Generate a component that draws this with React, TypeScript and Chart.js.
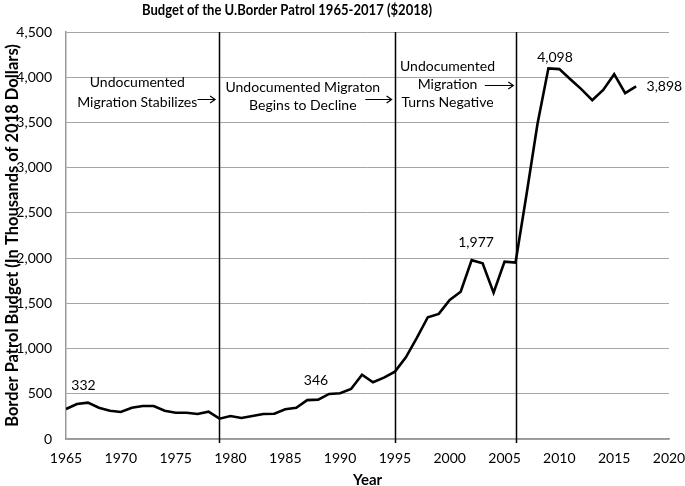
import { useEffect, useRef } from "react";
import { Chart, registerables } from "chart.js";

Chart.register(...registerables);

const years: number[] = [
  1965, 1966, 1967, 1968, 1969, 1970, 1971, 1972, 1973, 1974,
  1975, 1976, 1977, 1978, 1979, 1980, 1981, 1982, 1983, 1984,
  1985, 1986, 1987, 1988, 1989, 1990, 1991, 1992, 1993, 1994,
  1995, 1996, 1997, 1998, 1999, 2000, 2001, 2002, 2003, 2004,
  2005, 2006, 2007, 2008, 2009, 2010, 2011, 2012, 2013, 2014,
  2015, 2016, 2017,
];
const budget: number[] = [
  332, 387, 402, 346, 313, 299, 346, 365, 365, 313,
  291, 291, 276, 302, 225, 254, 232, 254, 276, 280,
  328, 346, 430, 435, 498, 505, 553, 711, 627, 678,
  745, 903, 1117, 1346, 1383, 1537, 1629, 1977, 1943, 1618,
  1961, 1950, 2700, 3480, 4098, 4090, 3978, 3868, 3745, 3860,
  4034, 3824, 3898,
];
const markerYears: number[] = [1979, 1995, 2006];
const valueLabels: string[] = ["332", "346", "1,977", "4,098", "3,898"];
const phaseTexts: string[][] = [
  ["Undocumented", "Migration Stabilizes"],
  ["Undocumented Migraton", "Begins to Decline"],
  ["Undocumented", "Migration", "Turns Negative"],
];
const chartTitle = "Budget of the U.Border Patrol 1965-2017 ($2018)";
const yTitle = "Border Patrol Budget (In Thousands of 2018 Dollars)";
const xTitle = "Year";

const FONT = "Lato, 'Noto Sans', sans-serif";

const overlayPlugin = {
  id: "overlay",
  afterDatasetsDraw(chart: any) {
    const { ctx, chartArea, scales } = chart;
    const xs = scales.x;
    const ys = scales.y;
    const px = (v: number) => xs.getPixelForValue(v);
    const py = (v: number) => ys.getPixelForValue(v);
    ctx.save();
    // vertical marker lines
    ctx.strokeStyle = "#000";
    ctx.lineWidth = 1.5;
    markerYears.forEach((yr) => {
      const x = Math.round(px(yr)) + 0.5;
      ctx.beginPath();
      ctx.moveTo(x, chartArea.top);
      ctx.lineTo(x, chartArea.bottom + 4);
      ctx.stroke();
    });
    // value labels
    ctx.fillStyle = "#000";
    ctx.font = `14px ${FONT}`;
    ctx.textBaseline = "middle";
    const valPos: [number, number, CanvasTextAlign][] = [
      [1966.6, 597, "center"],
      [1987.8, 642, "center"],
      [2002.4, 2168, "center"],
      [2009.6, 4218, "center"],
      [2017.95, 3897, "left"],
    ];
    valueLabels.forEach((t, i) => {
      const [vx, vy, al] = valPos[i];
      ctx.textAlign = al;
      ctx.fillText(t, px(vx), py(vy));
    });
    // phase text blocks
    ctx.textAlign = "center";
    const blocks: [number, number[]][] = [
      [1971.5, [3938, 3717]],
      [1986.6, [3886, 3687]],
      [1999.8, [4118, 3916, 3717]],
    ];
    phaseTexts.forEach((lines, i) => {
      const [bx, bys] = blocks[i];
      lines.forEach((ln, j) => ctx.fillText(ln, px(bx), py(bys[j])));
    });
    // arrows
    const arrows: [number, number, number][] = [
      [1977.0, 1978.6, 3758],
      [1992.3, 1994.7, 3761],
      [2003.2, 2005.8, 3916],
    ];
    ctx.lineWidth = 1.2;
    arrows.forEach(([a, b, v]) => {
      const x1 = px(a);
      const x2 = px(b);
      const y = Math.round(py(v)) + 0.5;
      ctx.beginPath();
      ctx.moveTo(x1, y);
      ctx.lineTo(x2, y);
      ctx.moveTo(x2 - 5, y - 3.5);
      ctx.lineTo(x2, y);
      ctx.lineTo(x2 - 5, y + 3.5);
      ctx.stroke();
    });
    // title
    ctx.font = `bold 16px ${FONT}`;
    ctx.textAlign = "center";
    ctx.fillText(chartTitle, 287, 10, 290);
    ctx.restore();
  },
};

export default function App() {
  const ref = useRef<HTMLCanvasElement | null>(null);
  useEffect(() => {
    if (!ref.current) return;
    const chart = new Chart(ref.current, {
      type: "line",
      data: {
        datasets: [
          {
            data: years.map((y, i) => ({ x: y, y: budget[i] })),
            borderColor: "#000",
            borderWidth: 2.6,
            pointRadius: 0,
            tension: 0,
            fill: false,
          },
        ],
      },
      options: {
        responsive: false,
        animation: false,
        layout: { padding: { left: 0, right: 16, top: 32, bottom: 0 } },
        plugins: {
          legend: { display: false },
          title: { display: false },
          tooltip: { enabled: false },
        },
        scales: {
          x: {
            type: "linear",
            min: 1965,
            max: 2020,
            ticks: {
              stepSize: 5,
              color: "#000",
              font: { family: FONT, size: 14 },
              padding: 11,
              callback: (v: any) => String(v),
              maxRotation: 0,
            },
            grid: { display: false, drawTicks: false },
            border: { color: "#999", width: 1.5 },
            title: {
              display: true,
              text: xTitle,
              color: "#000",
              font: { family: FONT, size: 15, weight: "bold" },
              padding: { top: 0, bottom: -3 },
            },
            afterFit: (s: any) => {
              s.height = 47;
              s.paddingLeft = 0;
              s.paddingRight = 0;
            },
          },
          y: {
            min: 0,
            max: 4500,
            ticks: {
              stepSize: 500,
              color: "#000",
              font: { family: FONT, size: 14 },
              padding: 14,
              callback: (v: any) => Number(v).toLocaleString("en-US"),
            },
            grid: { color: "#a6a6a6", lineWidth: 1, drawTicks: false },
            border: { color: "#999", width: 1.5 },
            title: {
              display: true,
              text: yTitle,
              color: "#000",
              font: { family: FONT, size: 16.5, weight: "bold" },
              padding: { top: 3, bottom: 0 },
            },
            afterFit: (s: any) => {
              s.width = 66;
              s.paddingTop = 0;
              s.paddingBottom = 0;
            },
          },
        },
      },
      plugins: [overlayPlugin],
    } as any);
    return () => chart.destroy();
  }, []);
  return (
    <div style={{ position: "absolute", left: 0, top: 0, width: 685, height: 486, background: "#fff" }}>
      <canvas ref={ref} width={685} height={486} />
    </div>
  );
}
